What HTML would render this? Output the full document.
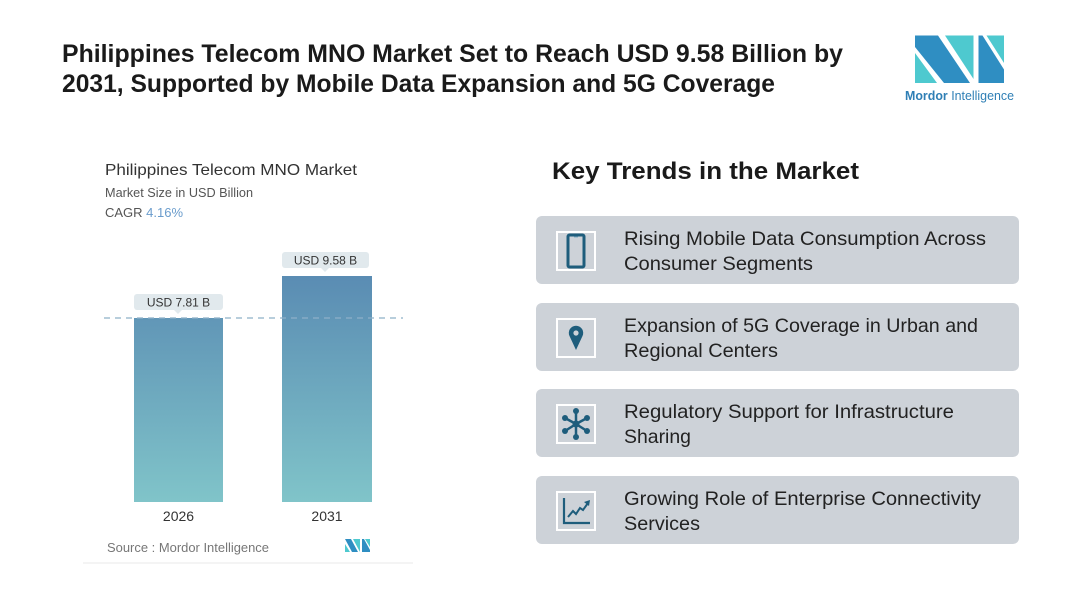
<!DOCTYPE html>
<html>
<head>
<meta charset="utf-8">
<style>
  html, body { margin:0; padding:0; background:#ffffff; }
  svg { display:block; }
  text { font-family: "Liberation Sans", "DejaVu Sans", sans-serif; }
</style>
</head>
<body>
<svg width="1073" height="599" viewBox="0 0 1073 599" xmlns="http://www.w3.org/2000/svg">
  <defs>
    <linearGradient id="barg" gradientUnits="userSpaceOnUse" x1="0" y1="276" x2="0" y2="502">
      <stop offset="0" stop-color="#5a8cb3"/>
      <stop offset="1" stop-color="#80c4c9"/>
    </linearGradient>
  </defs>
  <rect width="1073" height="599" fill="#ffffff"/>

  <!-- Main title -->
  <text x="62" y="62" font-size="25" font-weight="bold" fill="#1a1a1a" textLength="781" lengthAdjust="spacingAndGlyphs">Philippines Telecom MNO Market Set to Reach USD 9.58 Billion by</text>
  <text x="62" y="92" font-size="25" font-weight="bold" fill="#1a1a1a" textLength="713" lengthAdjust="spacingAndGlyphs">2031, Supported by Mobile Data Expansion and 5G Coverage</text>

  <!-- Logo -->
  <g>
    <polygon points="915,35.5 938,35.5 970,83 944,83 915,47" fill="#2f8ec2"/>
    <polygon points="915,53 915,83 937,83" fill="#4ec9cf"/>
    <polygon points="945,35.5 973.5,35.5 973.5,79" fill="#4ec9cf"/>
    <polygon points="978.5,35.5 982.5,35.5 1004,69.5 1004,83 978.5,83" fill="#2f8ec2"/>
    <polygon points="986.5,35.5 1004,35.5 1004,63" fill="#4ec9cf"/>
    <text x="905" y="100" font-size="12.5" fill="#2f7fb5" textLength="109" lengthAdjust="spacingAndGlyphs"><tspan font-weight="bold">Mordor</tspan> Intelligence</text>
  </g>

  <!-- Chart panel -->
  <line x1="83" y1="563" x2="413" y2="563" stroke="#e8e8e8" stroke-width="1"/>
  <text x="105" y="175" font-size="16" fill="#333333" textLength="252" lengthAdjust="spacingAndGlyphs">Philippines Telecom MNO Market</text>
  <text x="105" y="197" font-size="13" fill="#555555" textLength="148" lengthAdjust="spacingAndGlyphs">Market Size in USD Billion</text>
  <text x="105" y="217" font-size="13" fill="#555555">CAGR <tspan fill="#6a9ccc">4.16%</tspan></text>

  <!-- Bars -->
  <rect x="134" y="318" width="89" height="184" fill="url(#barg)"/>
  <rect x="282" y="276" width="90" height="226" fill="url(#barg)"/>

  <!-- Dashed line -->
  <line x1="104" y1="318" x2="403" y2="318" stroke="#8eb0c8" stroke-width="1.3" stroke-dasharray="6,5"/>

  <!-- Value labels -->
  <rect x="134" y="294" width="89" height="16" rx="3" fill="#e1e9ed"/>
  <polygon points="174,310 182,310 178,314" fill="#e1e9ed"/>
  <text x="178.5" y="306.5" font-size="12" fill="#333333" text-anchor="middle">USD 7.81 B</text>

  <rect x="282" y="252" width="87" height="16" rx="3" fill="#e1e9ed"/>
  <polygon points="321,268 329,268 325,272" fill="#e1e9ed"/>
  <text x="325.5" y="264.5" font-size="12" fill="#333333" text-anchor="middle">USD 9.58 B</text>

  <!-- Year labels -->
  <text x="178.5" y="521" font-size="14" fill="#333333" text-anchor="middle">2026</text>
  <text x="327" y="521" font-size="14" fill="#333333" text-anchor="middle">2031</text>

  <!-- Source -->
  <text x="107" y="552" font-size="12.5" fill="#777777" textLength="162" lengthAdjust="spacingAndGlyphs">Source :  Mordor Intelligence</text>
  <g>
    <polygon points="345,539 351,539 358,552 352,552" fill="#2f8ec2"/>
    <polygon points="345,544 345,552 350,552" fill="#4ec9cf"/>
    <polygon points="353,539 360,539 360,552" fill="#4ec9cf"/>
    <polygon points="362,539 364,539 370,550 370,552 362,552" fill="#2f8ec2"/>
    <polygon points="365,539 370,539 370,547" fill="#4ec9cf"/>
  </g>

  <!-- Key Trends header -->
  <text x="552" y="179" font-size="24.5" font-weight="bold" fill="#1a1a1a" textLength="307" lengthAdjust="spacingAndGlyphs">Key Trends in the Market</text>

  <!-- Cards -->
  <g fill="#cdd2d8">
    <rect x="536" y="216" width="483" height="68" rx="6"/>
    <rect x="536" y="303" width="483" height="68" rx="6"/>
    <rect x="536" y="389" width="483" height="68" rx="6"/>
    <rect x="536" y="476" width="483" height="68" rx="6"/>
  </g>

  <!-- Icon boxes -->
  <g fill="none" stroke="#ffffff" stroke-width="2">
    <rect x="557" y="232" width="38" height="38"/>
    <rect x="557" y="319" width="38" height="38"/>
    <rect x="557" y="405" width="38" height="38"/>
    <rect x="557" y="492" width="38" height="38"/>
  </g>

  <!-- Icon 1: phone -->
  <rect x="568" y="235" width="16" height="32" rx="1.5" fill="none" stroke="#1e5d7c" stroke-width="3"/>
  <line x1="574" y1="237" x2="578" y2="237" stroke="#7fa9bf" stroke-width="1"/>

  <!-- Icon 2: pin -->
  <path d="M576 350 L569.5 336 A7.2 7.2 0 1 1 582.5 336 Z" fill="#1e5d7c"/>
  <circle cx="576" cy="333" r="2.6" fill="#cdd2d8"/>

  <!-- Icon 3: network hub -->
  <g stroke="#1e5d7c" stroke-width="2.5" fill="#1e5d7c">
    <line x1="576" y1="424" x2="576" y2="411"/>
    <line x1="576" y1="424" x2="576" y2="437"/>
    <line x1="576" y1="424" x2="565" y2="418"/>
    <line x1="576" y1="424" x2="587" y2="418"/>
    <line x1="576" y1="424" x2="565" y2="431"/>
    <line x1="576" y1="424" x2="587" y2="431"/>
    <circle cx="576" cy="424" r="3.5" stroke="none"/>
    <circle cx="576" cy="411" r="3" stroke="none"/>
    <circle cx="576" cy="437" r="3" stroke="none"/>
    <circle cx="565" cy="418" r="3" stroke="none"/>
    <circle cx="587" cy="418" r="3" stroke="none"/>
    <circle cx="565" cy="431" r="3" stroke="none"/>
    <circle cx="587" cy="431" r="3" stroke="none"/>
  </g>

  <!-- Icon 4: growth chart -->
  <g stroke="#1e5d7c" fill="none" stroke-width="2.2">
    <polyline points="564,498 564,523 590,523"/>
    <polyline points="568,517 573,511 576,514 580,508 583,510 588,503" stroke-width="2"/>
  </g>
  <polygon points="584,502 590,500 589,506" fill="#1e5d7c"/>

  <!-- Card texts -->
  <g font-size="19.5" fill="#222222">
    <text x="624" y="245" textLength="362" lengthAdjust="spacingAndGlyphs">Rising Mobile Data Consumption Across</text>
    <text x="624" y="270" textLength="189" lengthAdjust="spacingAndGlyphs">Consumer Segments</text>
    <text x="624" y="332" textLength="354" lengthAdjust="spacingAndGlyphs">Expansion of 5G Coverage in Urban and</text>
    <text x="624" y="357" textLength="154" lengthAdjust="spacingAndGlyphs">Regional Centers</text>
    <text x="624" y="418" textLength="330" lengthAdjust="spacingAndGlyphs">Regulatory Support for Infrastructure</text>
    <text x="624" y="443" textLength="67" lengthAdjust="spacingAndGlyphs">Sharing</text>
    <text x="624" y="505" textLength="357" lengthAdjust="spacingAndGlyphs">Growing Role of Enterprise Connectivity</text>
    <text x="624" y="530" textLength="76" lengthAdjust="spacingAndGlyphs">Services</text>
  </g>
</svg>
</body>
</html>
